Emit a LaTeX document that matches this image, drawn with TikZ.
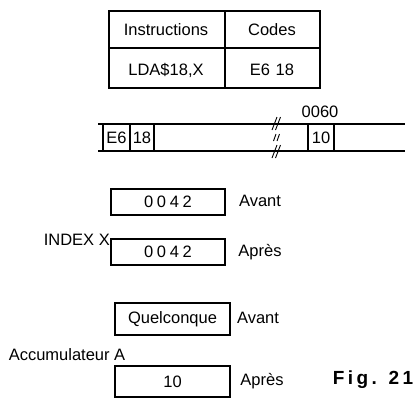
\documentclass[tikz,border=0pt]{standalone}
\usepackage{fontspec}
\setmainfont{Liberation Sans}
\begin{document}
\begin{tikzpicture}[x=1pt,y=-1pt,
  every node/.style={font=\fontsize{16.5}{18}\selectfont, inner sep=0pt},
  frame/.style={line width=1.4pt},
  cellbox/.style={draw, line width=1.4pt, minimum height=26pt, inner sep=0pt},
  spaced/.style={font=\fontsize{16.5}{18}\selectfont\addfontfeature{LetterSpace=22}},
  brk/.style={line width=0.9pt}]
\useasboundingbox (0,0) rectangle (417,408);
% table
\draw[frame] (109,11) rectangle (320,88);
\draw[frame] (109,48) -- (320,48);
\draw[frame] (225,11) -- (225,88);
\node (ins) at (166,30) {Instructions};
\node (cod) at (272,30) {Codes};
\node (lda) at (166,70) {LDA\$18,X};
\node (e618) at (272,70) {E6\,\,18};
% memory strip
\draw[frame] (98,124) -- (405,124);
\draw[frame] (98,151) -- (405,151);
\draw[frame] (103,124) -- (103,151);
\draw[frame] (130,124) -- (130,151);
\draw[frame] (154,124) -- (154,151);
\draw[frame] (308,124) -- (308,151);
\draw[frame] (334,124) -- (334,151);
\node (e6) at (116.5,138) {E6};
\node (m18) at (142,138) {18};
\node (m10) at (321,138) {10};
\node (adr) at (320,112) {0060};
\foreach \d in {0,3.5}{
  \draw[brk] (272+\d,130) -- (277+\d,117);
  \draw[brk] (273.5+\d,141) -- (276+\d,134);
  \draw[brk] (272+\d,158) -- (277+\d,145);
}
% index X
\node[cellbox, minimum width=114pt, spaced] (x1) at (168,202) {0042};
\node[cellbox, minimum width=114pt, spaced] (x2) at (168,252) {0042};
\node (xav) at (260,201) {Avant};
\node (xap) at (260,252) {Après};
\node[anchor=east] (ix) at (110,240) {INDEX X};
% accumulator
\node[cellbox, minimum width=115pt, minimum height=32pt] (a1) at (172.5,319) {Quelconque};
\node[cellbox, minimum width=115pt, minimum height=31pt] (a2) at (172.5,381.5) {10};
\node (aav) at (258,318) {Avant};
\node (aap) at (262,381) {Après};
\node (acc) at (67,355) {Accumulateur A};
\node (fig) at (373,380) {\fontsize{19}{21}\selectfont\addfontfeature{LetterSpace=18}\bfseries Fig. 21};
\end{tikzpicture}
\end{document}
